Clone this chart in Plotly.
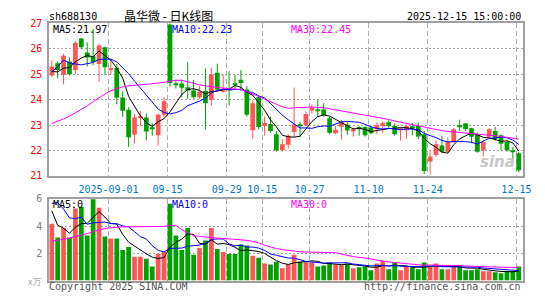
import plotly.graph_objects as go

# ---------------- data ----------------
date_labels = ["2025-09-01", "09-15", "09-29", "10-15", "10-27", "11-10", "11-24", "12-15"]
date_index = [10, 20, 30, 36, 44, 54, 64, 79]

open_ = [24.95, 25.43, 24.97, 25.50, 25.16, 26.40, 25.85, 25.70, 25.40, 26.06,
         25.18, 25.25, 24.08, 23.60, 22.62, 23.30, 23.30, 22.88, 22.60, 23.40,
         26.95, 24.61, 24.63, 24.49, 24.36, 24.09, 24.34, 23.99, 25.06, 24.31,
         24.44, 24.61, 24.78, 24.40, 22.80, 24.09, 22.96, 23.04, 22.64, 22.01,
         22.23, 22.73, 23.02, 22.98, 23.56, 23.61, 23.61, 23.27, 22.68, 22.93,
         23.01, 22.77, 22.92, 22.92, 22.89, 22.83, 22.96, 23.11, 22.96, 22.80,
         22.80, 22.93, 22.96, 22.64, 21.57, 21.82, 22.20, 21.95, 22.33, 22.98,
         23.06, 22.87, 22.62, 22.01, 22.54, 22.77, 22.60, 22.33, 21.98, 21.89]
high = [25.55, 25.50, 25.80, 25.66, 26.30, 26.42, 26.25, 26.78, 26.20, 26.08,
        25.60, 25.40, 24.32, 23.70, 23.45, 23.55, 23.46, 23.08, 23.46, 24.10,
        27.00, 24.78, 24.78, 25.47, 24.78, 24.53, 25.22, 25.25, 25.41, 24.99,
        25.12, 24.97, 25.16, 24.53, 23.96, 24.15, 23.33, 23.33, 22.77, 22.45,
        22.64, 24.47, 23.14, 23.52, 23.80, 23.99, 23.86, 23.33, 22.96, 23.21,
        23.11, 22.89, 22.96, 22.96, 22.96, 23.11, 23.14, 23.18, 23.06, 22.89,
        23.02, 23.08, 23.10, 22.77, 22.01, 22.39, 22.58, 22.51, 22.89, 23.21,
        23.08, 22.89, 22.70, 22.39, 22.89, 22.92, 22.64, 22.42, 22.14, 21.95]
low = [24.90, 24.84, 24.60, 24.95, 25.00, 25.98, 25.30, 25.35, 24.70, 24.97,
       24.98, 23.82, 23.32, 22.14, 22.27, 22.95, 22.40, 22.58, 22.20, 23.30,
       24.52, 24.44, 24.09, 24.03, 24.03, 24.03, 22.83, 23.77, 24.34, 24.28,
       23.77, 24.40, 24.34, 23.33, 22.45, 22.83, 22.58, 22.70, 21.95, 21.95,
       22.08, 22.52, 22.52, 22.96, 23.45, 23.33, 23.33, 22.64, 22.64, 22.43,
       22.62, 22.55, 22.58, 22.55, 22.64, 22.64, 22.68, 22.89, 22.58, 22.39,
       22.45, 22.60, 22.45, 21.07, 21.07, 21.76, 21.89, 21.91, 22.29, 22.77,
       22.77, 22.29, 21.91, 21.76, 22.51, 22.39, 22.01, 21.95, 21.64, 21.14]
close = [25.30, 25.16, 25.72, 25.00, 26.23, 26.06, 25.65, 25.48, 26.13, 25.27,
         25.22, 24.07, 23.56, 22.52, 23.30, 23.33, 22.75, 22.85, 23.40, 23.94,
         24.65, 24.57, 24.47, 24.36, 24.09, 24.31, 23.86, 24.99, 24.40, 24.40,
         24.40, 24.57, 24.65, 23.40, 23.86, 22.92, 23.08, 22.77, 22.01, 22.24,
         22.58, 23.02, 22.96, 23.43, 23.69, 23.55, 23.38, 22.70, 22.81, 23.11,
         22.79, 22.82, 22.83, 22.60, 22.68, 22.99, 23.08, 22.96, 22.64, 22.83,
         22.96, 22.88, 22.55, 21.19, 21.76, 22.24, 21.95, 22.33, 22.83, 22.94,
         22.83, 22.54, 21.95, 22.33, 22.83, 22.45, 22.26, 22.01, 21.95, 21.22]
# closes before the window, estimated from where the MA5 / MA10 lines start
prior_close = [23.2, 23.0, 26.2, 26.6, 26.4, 25.2, 25.0, 24.9, 25.1]
# MA30 of price
price_ma30 = [23.06, 23.14, 23.24, 23.35, 23.48, 23.60, 23.75, 23.92, 24.08, 24.22,
              24.35, 24.43, 24.50, 24.54, 24.57, 24.58, 24.60, 24.62, 24.65, 24.68,
              24.72, 24.76, 24.76, 24.70, 24.62, 24.58, 24.54, 24.50, 24.48, 24.45,
              24.43, 24.42, 24.40, 24.32, 24.22, 24.12, 24.00, 23.90, 23.80, 23.72,
              23.66, 23.68, 23.69, 23.70, 23.71, 23.70, 23.68, 23.64, 23.60, 23.56,
              23.52, 23.48, 23.44, 23.40, 23.36, 23.32, 23.27, 23.22, 23.16, 23.11,
              23.06, 23.02, 22.98, 22.93, 22.87, 22.82, 22.78, 22.75, 22.73, 22.71,
              22.70, 22.68, 22.66, 22.64, 22.62, 22.58, 22.55, 22.52, 22.49, 22.45]
# legend values printed on the chart
price_ma_labels = ["MA5:21.97", "MA10:22.23", "MA30:22.45"]
volume_ma_labels = ["MA5:0", "MA10:0", "MA30:0"]

volume = [4.18, 3.17, 3.87, 3.17, 5.29, 5.43, 3.31, 5.98, 5.36, 3.24,
          3.09, 3.09, 2.24, 2.46, 1.75, 1.75, 1.61, 1.04, 1.96, 2.10,
          5.65, 3.31, 2.24, 3.87, 1.89, 2.39, 2.95, 3.87, 2.32, 2.10,
          1.96, 1.96, 2.65, 2.58, 1.82, 1.68, 1.25, 1.18, 1.39, 0.90,
          1.18, 1.89, 1.39, 1.44, 1.32, 1.04, 1.11, 1.32, 1.18, 1.18,
          1.25, 0.90, 0.97, 1.04, 0.76, 1.25, 1.46, 0.83, 1.32, 0.76,
          1.04, 0.97, 0.83, 1.32, 1.04, 1.25, 0.83, 0.83, 1.11, 1.11,
          0.76, 0.76, 0.83, 0.69, 0.69, 0.61, 0.54, 0.69, 0.69, 1.04]
prior_volume = [2.5, 8.7, 9.6, 5.9, 4.3, 8.5, 5.0, 5.0, 3.0]
vol_ma30 = [2.90, 2.95, 3.03, 3.12, 3.22, 3.33, 3.45, 3.60, 3.72, 3.83,
            3.88, 3.93, 3.95, 3.95, 3.95, 3.95, 3.95, 3.95, 3.96, 3.98,
            4.05, 4.05, 3.75, 3.55, 3.30, 3.25, 3.18, 3.16, 3.13, 3.10,
            3.06, 3.04, 3.01, 2.96, 2.88, 2.78, 2.60, 2.45, 2.35, 2.28,
            2.22, 2.16, 2.12, 2.10, 2.09, 2.08, 2.07, 2.07, 2.05, 1.95,
            1.83, 1.76, 1.71, 1.67, 1.60, 1.50, 1.42, 1.37, 1.33, 1.28,
            1.22, 1.18, 1.16, 1.14, 1.12, 1.11, 1.11, 1.11, 1.11, 1.11,
            1.08, 1.06, 1.04, 1.02, 1.00, 0.97, 0.97, 0.97, 0.97, 0.97]

price_ticks = [21, 22, 23, 24, 25, 26, 27]
volume_ticks = [2, 4, 6]

# ---------------- helpers ----------------
W, H = 545, 300
def px(x):
    return x / W
def py(y):
    return 1 - y / H

RED = "#ff5555"
GREEN = "#00a000"
FONT = "DejaVu Sans Mono"

n = len(close)
idx = list(range(n))

def moving_avg(values, prior, k):
    full = prior + values
    off = len(prior)
    return [sum(full[off + i - k + 1: off + i + 1]) / k for i in range(len(values))]

ma5 = moving_avg(close, prior_close, 5)
ma10 = moving_avg(close, prior_close, 10)
vma5 = moving_avg(volume, prior_volume, 5)
vma10 = moving_avg(volume, prior_volume, 10)

up = [c >= o for o, c in zip(open_, close)]
colors = [RED if u else GREEN for u in up]

fig = go.Figure()

# wicks
for flag, col in ((True, RED), (False, GREEN)):
    wx, wy = [], []
    for i in idx:
        if up[i] == flag:
            wx += [i, i, None]
            wy += [low[i], high[i], None]
    fig.add_trace(go.Scatter(x=wx, y=wy, mode="lines", line=dict(color=col, width=1),
                             hoverinfo="skip", showlegend=False, xaxis="x", yaxis="y"))

# bodies
fig.add_trace(go.Bar(x=idx, base=[min(o, c) for o, c in zip(open_, close)],
                     y=[max(abs(c - o), 0.04) for o, c in zip(open_, close)],
                     width=0.8, marker=dict(color=colors, line=dict(width=0)),
                     showlegend=False, xaxis="x", yaxis="y"))

for series, col in ((ma5, "#000000"), (ma10, "#0000ff"), (price_ma30, "#ff00ff")):
    fig.add_trace(go.Scatter(x=idx, y=series, mode="lines", line=dict(color=col, width=1),
                             showlegend=False, xaxis="x", yaxis="y"))

# volume
fig.add_trace(go.Bar(x=idx, y=volume, width=0.8, marker=dict(color=colors, line=dict(width=0)),
                     showlegend=False, xaxis="x2", yaxis="y2"))
for series, col in ((vma5, "#000000"), (vma10, "#0000ff"), (vol_ma30, "#ff00ff")):
    fig.add_trace(go.Scatter(x=idx, y=series, mode="lines", line=dict(color=col, width=1),
                             showlegend=False, xaxis="x2", yaxis="y2"))

xdom = [px(50), px(531)]
xr = [-0.42, 79.75]
gridx = [i - 0.4 for i in date_index]

common_x = dict(domain=xdom, range=xr, tickmode="array", tickvals=gridx,
                showgrid=True, gridcolor="#b0b0b0", griddash="5px,3px", gridwidth=1,
                showline=True, mirror=True, linecolor="#a0a0a0", linewidth=2,
                zeroline=False, ticks="", fixedrange=True)

fig.update_layout(
    width=W, height=H, margin=dict(l=0, r=0, t=0, b=0),
    paper_bgcolor="white", plot_bgcolor="white", barmode="overlay",
    showlegend=False,
    xaxis=dict(**common_x, anchor="y", ticktext=date_labels,
               tickfont=dict(family=FONT, size=10, color="#0077cc"), ticklabelstandoff=3),
    xaxis2=dict(**common_x, anchor="y2", matches="x", showticklabels=False),
    yaxis=dict(domain=[py(177), py(18)], range=[21, 27], tickmode="array", tickvals=price_ticks,
               tickfont=dict(family=FONT, size=10, color="#ff0000"),
               showgrid=True, gridcolor="#a8a8a8", griddash="2px,2px", gridwidth=1,
               showline=True, mirror=True, linecolor="#a0a0a0", linewidth=2,
               zeroline=False, ticks="", ticklabelstandoff=3, fixedrange=True),
    yaxis2=dict(domain=[py(286), py(201)], range=[0, 6], tickmode="array", tickvals=volume_ticks,
                tickfont=dict(family=FONT, size=10, color="#808080"),
                showgrid=True, gridcolor="#a8a8a8", griddash="2px,2px", gridwidth=1,
                showline=True, mirror=True, linecolor="#a0a0a0", linewidth=2,
                zeroline=False, ticks="", ticklabelstandoff=3, fixedrange=True),
)

def note(text, x, y, anchor="left", color="#000", size=10, family=FONT, **kw):
    fig.add_annotation(text=text, x=px(x), y=py(y), xref="paper", yref="paper",
                       xanchor=anchor, yanchor="middle", showarrow=False, borderpad=0,
                       font=dict(family=family, size=size, color=color, **kw))

note("sh688130", 49, 10.5)
note("晶华微 - 日K线图", 171, 10, anchor="center", size=12, family="Noto Sans CJK SC")
note("2025-12-15 15:00:00", 530, 10.5, anchor="right")

ma_x = [53, 174, 294]
ma_colors = ["#000000", "#0000ff", "#ff00ff"]
for lab, x, col in zip(price_ma_labels, ma_x, ma_colors):
    note(lab, x, 24, color=col)
for lab, x, col in zip(volume_ma_labels, ma_x, ma_colors):
    note(lab, x, 206.5, color=col)

note("x万", 35, 287, anchor="center", color="#aaaaaa", size=9, family="Noto Sans CJK SC")
note("Copyright 2025 SINA.COM", 49, 292.5, color="#555555")
note("http://finance.sina.com.cn", 530, 292.5, anchor="right", color="#555555")
note("sina", 505, 162, anchor="center", color="#c8c8c8", size=15, family="DejaVu Sans",
     weight="bold", style="italic")

fig.write_html("out.html")
